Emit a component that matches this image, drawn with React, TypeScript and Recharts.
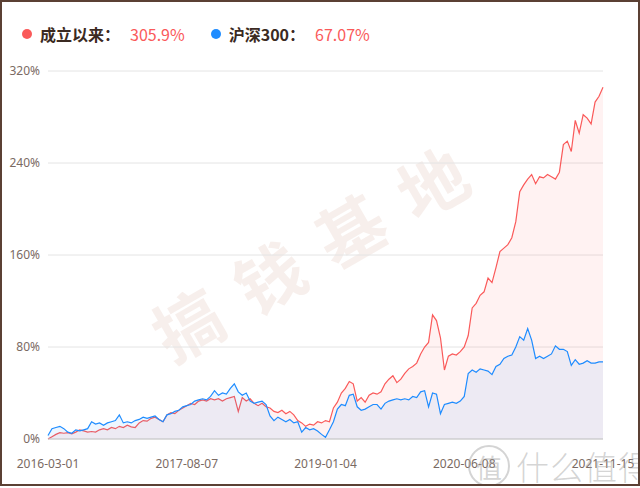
import { AreaChart, Area, XAxis, YAxis, CartesianGrid } from 'recharts'

// 5 evenly spaced date labels on the category axis
const xLabels = ['2016-03-01', '2017-08-07', '2019-01-04', '2020-06-08', '2021-11-15']
const yTicks = [0, 80, 160, 240, 320]

// cumulative return in %
const fundReturn = [
  0, 2, 4, 5.5, 5, 5.5, 4.5, 6, 8, 7,
  6, 6.5, 6, 8, 9, 8, 10, 9, 11, 10,
  12, 10.5, 10, 14, 16, 15.5, 18, 19, 17, 15,
  21, 23, 22, 25, 27, 29, 31, 30, 33, 34,
  33, 35, 34, 35, 33, 35, 36, 37, 24, 36,
  33, 35, 31, 29, 31, 28, 27, 24, 23, 25,
  22, 24, 21, 16, 14, 11, 13, 12, 15, 14,
  16, 15, 27, 32, 40, 44, 50, 48, 33, 36,
  32, 38, 40, 39, 41, 48, 52, 55, 49, 52,
  57, 61, 63, 66, 74, 80, 84, 108, 103, 88,
  60, 72, 74, 73, 76, 80, 90, 114, 118, 125,
  128, 140, 136, 149, 163, 166, 169, 175, 189, 215,
  221, 226, 230, 222, 228, 227, 230, 228, 226, 232,
  256, 259, 250, 277, 266, 282, 279, 274, 293, 298,
  305.9,
]

const hs300Return = [
  3, 9, 10, 11, 9, 6, 5, 8, 7, 8,
  9, 15, 13, 14, 12, 14, 15, 16, 21, 14,
  15, 14, 16, 17, 19, 18, 19, 20, 17, 15,
  21, 22, 24, 25, 28, 29, 30, 33, 34, 35,
  34, 37, 42, 38, 40, 39, 44, 48, 41, 38,
  40, 33, 31, 32, 33, 30, 20, 16, 19, 17,
  15, 17, 14, 15, 6, 10, 8, 9, 7, 4,
  1.5, 8, 15, 26, 30, 29, 38, 39, 28, 25,
  26, 28, 30, 30, 26, 31, 33, 34, 35, 34,
  35, 34, 37, 36, 41, 42, 28, 40, 39, 22,
  30, 31, 32, 31, 33, 37, 57, 60, 58, 61,
  60, 59, 56, 63, 65, 70, 72, 73, 80, 89,
  86, 96, 86, 70, 72, 70, 72, 74, 81, 78,
  78, 76, 64, 69, 65, 66, 68, 66, 66, 67,
  67.07,
]

const data = fundReturn.map((v, i) => ({ i, fund: v, hs300: hs300Return[i] }))
const last = data.length - 1
const xTicks = xLabels.map((_, k) => (last * k) / (xLabels.length - 1))

const RED = '#fa5a5a'
const BLUE = '#1e8cff'
const tickStyle = { fill: '#7a6a63', fontSize: 12, fontFamily: '"Noto Sans", "Noto Sans CJK SC", sans-serif' }

function Dot({ color }: { color: string }) {
  return (
    <span
      style={{
        display: 'inline-block',
        width: 10,
        height: 10,
        borderRadius: '50%',
        background: color,
        marginRight: 8,
      }}
    />
  )
}

export default function App() {
  return (
    <div
      style={{
        position: 'absolute',
        left: 0,
        top: 0,
        width: 640,
        height: 486,
        boxSizing: 'border-box',
        border: '2px solid #5b4034',
        background: '#fff',
        overflow: 'hidden',
        fontFamily: '"Noto Sans CJK SC", "Noto Sans", sans-serif',
      }}
    >
      <div
        style={{
          position: 'absolute',
          left: 20,
          top: 20,
          height: 24,
          display: 'flex',
          alignItems: 'center',
          fontSize: 16,
          whiteSpace: 'nowrap',
        }}
      >
        <Dot color={RED} />
        <span style={{ color: '#3b2a22', fontWeight: 700 }}>成立以来：</span>
        <span style={{ color: RED, marginLeft: 10 }}>305.9%</span>
        <span style={{ width: 26 }} />
        <Dot color={BLUE} />
        <span style={{ color: '#3b2a22', fontWeight: 700 }}>沪深300：</span>
        <span style={{ color: RED, marginLeft: 10 }}>67.07%</span>
      </div>

      {/* watermark behind the series */}
      <div
        style={{
          position: 'absolute',
          left: 318,
          top: 243,
          transform: 'translate(-50%, -50%) rotate(-30deg)',
          fontSize: 68,
          fontWeight: 700,
          letterSpacing: 26,
          color: 'rgba(190, 130, 110, 0.13)',
          whiteSpace: 'nowrap',
        }}
      >
        搞钱基地
      </div>

      <div style={{ position: 'absolute', left: -2, top: -2 }}>
        <AreaChart width={640} height={488} data={data} margin={{ top: 71, right: 37, left: 0, bottom: 0 }}>
          <CartesianGrid vertical={false} stroke="#e4e4e4" />
          <XAxis
            dataKey="i"
            type="number"
            domain={[0, last]}
            ticks={xTicks}
            interval={0}
            tickFormatter={(v: number) => xLabels[Math.round((v * (xLabels.length - 1)) / last)]}
            tick={tickStyle}
            tickLine={false}
            axisLine={{ stroke: '#c8c8c8' }}
            tickMargin={14}
            height={49}
          />
          <YAxis
            domain={[0, 320]}
            ticks={yTicks}
            tickFormatter={(v: number) => `${v}%`}
            tick={tickStyle}
            tickLine={false}
            axisLine={false}
            width={48}
          />
          <Area
            type="linear"
            dataKey="fund"
            stroke={RED}
            strokeWidth={1.2}
            fill={RED}
            fillOpacity={0.08}
            dot={false}
            isAnimationActive={false}
          />
          <Area
            type="linear"
            dataKey="hs300"
            stroke={BLUE}
            strokeWidth={1.2}
            fill={BLUE}
            fillOpacity={0.08}
            dot={false}
            isAnimationActive={false}
          />
        </AreaChart>
      </div>

      {/* site watermark, bottom right */}
      <div
        style={{
          position: 'absolute',
          left: 466,
          top: 440,
          display: 'flex',
          alignItems: 'center',
          color: 'rgba(160, 160, 160, 0.45)',
          whiteSpace: 'nowrap',
        }}
      >
        <span
          style={{
            width: 38,
            height: 38,
            borderRadius: '50%',
            border: '2px solid rgba(160, 160, 160, 0.45)',
            display: 'inline-flex',
            alignItems: 'center',
            justifyContent: 'center',
            fontSize: 26,
            marginRight: 6,
          }}
        >
          值
        </span>
        <span style={{ fontSize: 33, fontWeight: 300, letterSpacing: 1 }}>什么值得买</span>
      </div>
    </div>
  )
}
